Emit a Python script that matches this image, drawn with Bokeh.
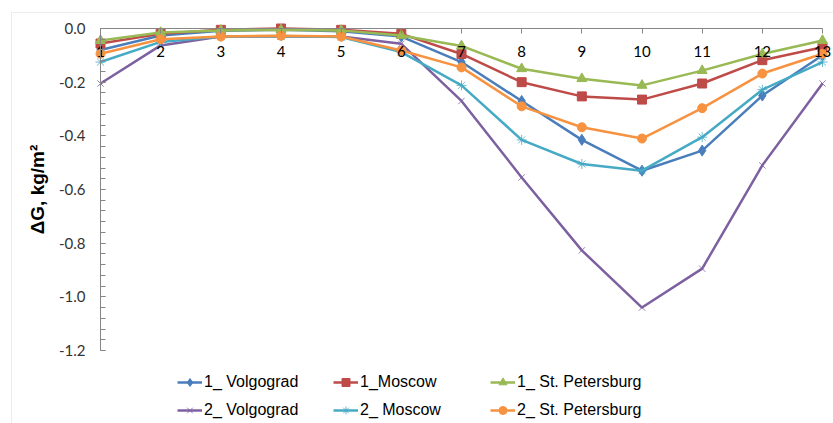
from bokeh.plotting import figure
from bokeh.models import (Range1d, Legend, LegendItem, FixedTicker, LinearAxis,
                          NumeralTickFormatter, BoxAnnotation)
from bokeh.embed import file_html
from bokeh.resources import INLINE

# ---- data ----
months = list(range(1, 14))
month_labels = [str(m) for m in months]
y_ticks = [0.0, -0.2, -0.4, -0.6, -0.8, -1.0, -1.2]

volgograd_1 = [-0.080, -0.026, -0.008, -0.005, -0.010, -0.030, -0.125, -0.270, -0.415, -0.530, -0.455, -0.250, -0.100]
moscow_1 = [-0.056, -0.020, -0.005, 0.000, -0.005, -0.020, -0.095, -0.200, -0.253, -0.265, -0.205, -0.118, -0.070]
stpetersburg_1 = [-0.045, -0.015, -0.007, -0.005, -0.007, -0.026, -0.065, -0.150, -0.187, -0.212, -0.157, -0.095, -0.045]
volgograd_2 = [-0.205, -0.063, -0.030, -0.030, -0.030, -0.057, -0.270, -0.555, -0.827, -1.040, -0.895, -0.510, -0.205]
moscow_2 = [-0.125, -0.050, -0.030, -0.028, -0.032, -0.088, -0.212, -0.415, -0.505, -0.530, -0.405, -0.228, -0.125]
stpetersburg_2 = [-0.094, -0.040, -0.030, -0.027, -0.030, -0.082, -0.145, -0.290, -0.368, -0.410, -0.297, -0.168, -0.094]

series_names = ["1_ Volgograd", "1_Moscow", "1_ St. Petersburg",
                "2_ Volgograd", "2_ Moscow", "2_ St. Petersburg"]
series_values = [volgograd_1, moscow_1, stpetersburg_1,
                 volgograd_2, moscow_2, stpetersburg_2]
colors = ["#4A7EBB", "#BE4B48", "#98B954", "#7D60A0", "#46AAC5", "#F69240"]
markers = ["diamond", "square", "triangle", "x", "asterisk", "circle"]
marker_sizes = [11, 9, 10, 9, 10, 9]

y_min, y_max = y_ticks[-1], y_ticks[0]

# ---- layout (pixels) ----
W, H = 833, 423
AX_LEFT, AX_RIGHT, AX_TOP, AX_BOTTOM = 100, 822, 28, 350
px_per_x = (AX_RIGHT - AX_LEFT) / (months[-1] - months[0])
px_per_y = (AX_BOTTOM - AX_TOP) / (y_max - y_min)
AX = "#868686"

# the frame covers the whole canvas; axes are pinned at data locations
x_range = Range1d(months[0] - AX_LEFT / px_per_x, months[-1] + (W - AX_RIGHT) / px_per_x)
y_range = Range1d(y_min - (H - AX_BOTTOM) / px_per_y, y_max + AX_TOP / px_per_y)

p = figure(width=W, height=H, output_backend="svg", toolbar_location=None,
           x_range=x_range, y_range=y_range,
           min_border_left=0, min_border_right=0, min_border_top=0, min_border_bottom=0,
           x_axis_location=None, y_axis_location=None)
p.grid.visible = False
p.outline_line_color = None
p.background_fill_color = "white"
p.border_fill_color = "white"

# y axis at x = first month
yax = LinearAxis(fixed_location=months[0], bounds=(y_min, y_max))
yax.ticker = FixedTicker(ticks=y_ticks, minor_ticks=[round(-0.04 * i, 2) for i in range(31)])
yax.formatter = NumeralTickFormatter(format="0.0")
yax.axis_line_color = AX
yax.major_tick_line_color = AX
yax.minor_tick_line_color = AX
yax.major_tick_in = 5
yax.major_tick_out = 0
yax.minor_tick_in = 5
yax.minor_tick_out = 0
yax.major_label_standoff = 15
yax.major_label_text_font = "Lato"
yax.major_label_text_font_size = "15px"
yax.major_label_text_color = "#333333"
yax.axis_label = "ΔG, kg/m²"
yax.axis_label_text_font = "Liberation Sans"
yax.axis_label_text_font_style = "bold"
yax.axis_label_text_font_size = "19px"
yax.axis_label_text_color = "black"
yax.axis_label_standoff = 8
p.add_layout(yax, "left")

# x axis along y = 0, ticks and labels below the line
xax = LinearAxis(fixed_location=0, bounds=(months[0], months[-1]))
xax.ticker = FixedTicker(ticks=months, minor_ticks=[])
xax.major_label_overrides = {m: l for m, l in zip(months, month_labels)}
xax.axis_line_color = AX
xax.major_tick_line_color = AX
xax.major_tick_in = 0
xax.major_tick_out = 5
xax.minor_tick_line_color = None
xax.major_label_standoff = 12
xax.major_label_text_font = "Lato"
xax.major_label_text_font_size = "15px"
xax.major_label_text_color = "black"
p.add_layout(xax, "below")

# outer chart border (gray), expressed through the scales
def x_of(px):
    return x_range.start + px / px_per_x

def y_of(py):
    return y_range.end - py / px_per_y

p.add_layout(BoxAnnotation(left=x_of(11), right=x_of(W + 20), top=y_of(12), bottom=y_of(H + 20),
                           fill_alpha=0, line_color="#BFBFBF", line_width=1))

# series
items = []
for name, vals, c, m, s in zip(series_names, series_values, colors, markers, marker_sizes):
    ln = p.line(months, vals, line_color=c, line_width=2.5)
    if m in ("x", "asterisk"):
        sc = p.scatter(months, vals, marker=m, size=s, line_color=c, line_width=1, line_alpha=0.8)
    else:
        sc = p.scatter(months, vals, marker=m, size=s, fill_color=c, line_color=c, line_width=1)
    items.append(LegendItem(label=name, renderers=[ln, sc]))

# legend: three columns of two rows
col_x = [177, 333, 490]
for ci in range(3):
    lg = Legend(items=[items[ci], items[ci + 3]], location=(col_x[ci], 3),
                orientation="vertical", glyph_width=25, glyph_height=20,
                label_height=20, spacing=8, label_standoff=2, padding=0, margin=0,
                border_line_color=None, background_fill_alpha=0,
                label_text_font="Liberation Sans", label_text_font_size="16px",
                label_text_color="black")
    p.add_layout(lg, "center")

open("out.html", "w").write(file_html(p, INLINE))
